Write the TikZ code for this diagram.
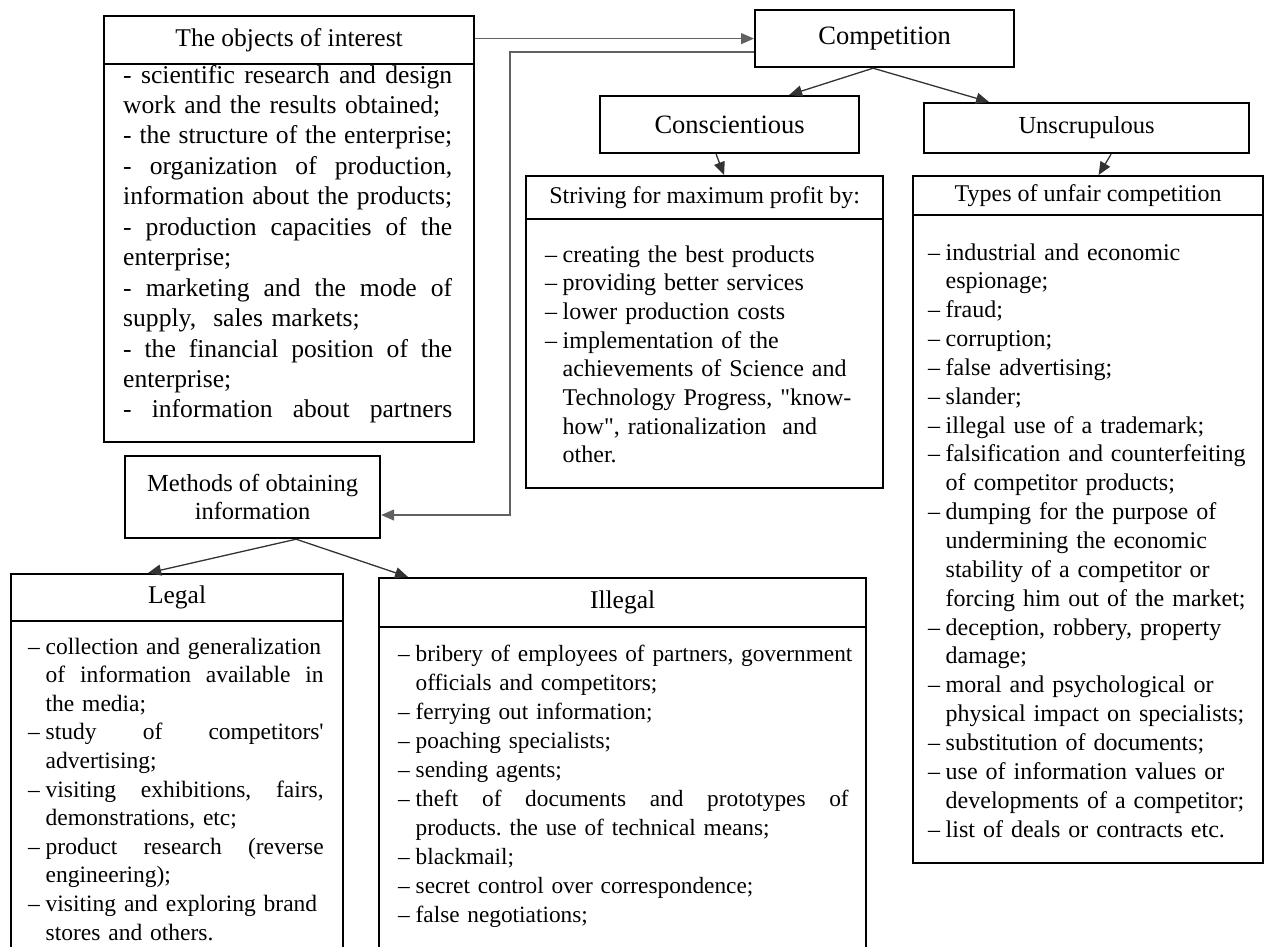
\documentclass[tikz,border=0pt]{standalone}
\usepackage{fontspec}
\setmainfont{Liberation Serif}
\usetikzlibrary{arrows.meta,calc}
\newcommand{\itm}{\makebox[17.5pt][l]{–}}
\newcommand{\cind}{\hspace*{17.5pt}}
\newcommand{\jline}[2]{\leavevmode\hbox to #1{\spaceskip=\fontdimen2\font plus 1fil\relax #2}}
\frenchspacing
\begin{document}
\begin{tikzpicture}[x=1pt,y=-1pt,
  box/.style={draw=black,line width=2.2pt,inner sep=0pt,anchor=north west,align=center,fill=white},
  hfont/.style={font=\fontsize{24.5}{28}\selectfont},
  body/.style={inner sep=0pt,anchor=base west,align=left},
  conn/.style={draw=black!80,line width=1.3pt,-{Triangle[length=13pt,width=11pt]}},
  conng/.style={conn,draw=black!62},
  ]
\clip (0,0) rectangle (1264,946);
\coordinate (b1) at (510,52);
\coordinate (b2) at (510,515);
% boxes
\node[box,font=\fontsize{25.5}{28}\selectfont,minimum width=370pt,minimum height=48pt] (objH) at (103,15) {The objects of interest};
\node[box,minimum width=370pt,minimum height=378pt] (objB) at (103,63) {};
\node[box,font=\fontsize{26.5}{28}\selectfont,minimum width=259pt,minimum height=57pt] (comp) at (754,9) {Competition};
\node[box,font=\fontsize{26.5}{28}\selectfont,minimum width=259pt,minimum height=57pt] (consc) at (599,95) {Conscientious};
\node[box,hfont,minimum width=325pt,minimum height=50pt] (unscr) at (923,102) {Unscrupulous};
\node[box,font=\fontsize{24}{28}\selectfont,minimum width=357pt,minimum height=43pt] (strH) at (525,175) {Striving for maximum profit by:};
\node[box,minimum width=357pt,minimum height=269pt] (strB) at (525,218) {};
\node[box,font=\fontsize{24}{28}\selectfont,minimum width=350pt,minimum height=39pt] (typH) at (912,175) {Types of unfair competition};
\node[box,minimum width=350pt,minimum height=648pt] (typB) at (912,214) {};
\node[box,hfont,minimum width=255pt,minimum height=82pt] (methods) at (124,455) {Methods of obtaining\\information};
\node[box,font=\fontsize{25.5}{28}\selectfont,minimum width=332pt,minimum height=47pt] (legH) at (10,573) {Legal};
\node[box,minimum width=332pt,minimum height=340pt] (legB) at (10,620) {};
\node[box,font=\fontsize{25.5}{28}\selectfont,minimum width=487pt,minimum height=49pt] (illH) at (378,577) {Illegal};
\node[box,minimum width=487pt,minimum height=340pt] (illB) at (378,626) {};
% body texts
\node[body,text width=332pt,font=\fontsize{25.6}{30.45}\selectfont] (objT) at (123,83) {%
\jline{329pt}{- scientific research and design}\\
work and the results obtained;\\
\jline{329pt}{- the structure of the enterprise;}\\
\jline{329pt}{- organization of production,}\\
\jline{329pt}{information about the products;}\\
\jline{329pt}{- production capacities of the}\\
enterprise;\\
\jline{329pt}{- marketing and the mode of}\\
supply,~ sales markets;\\
\jline{329pt}{- the financial position of the}\\
enterprise;\\
\jline{329pt}{- information about partners}};
\node[body,text width=330pt,font=\fontsize{24}{28.7}\selectfont] (strT) at (545,262) {%
\itm creating the best products\\
\itm providing better services\\
\itm lower production costs\\
\itm implementation of the\\
\cind achievements of Science and\\
\cind Technology Progress, \textquotedbl know-\\
\cind how\textquotedbl, rationalization~ and\\
\cind other.};
\node[body,text width=330pt,font=\fontsize{24}{28.85}\selectfont] (typT) at (928,260) {%
\itm industrial and economic\\
\cind espionage;\\
\itm fraud;\\
\itm corruption;\\
\itm false advertising;\\
\itm slander;\\
\itm illegal use of a trademark;\\
\itm falsification and counterfeiting\\
\cind of competitor products;\\
\itm dumping for the purpose of\\
\cind undermining the economic\\
\cind stability of a competitor or\\
\cind forcing him out of the market;\\
\itm deception, robbery, property\\
\cind damage;\\
\itm moral and psychological or\\
\cind physical impact on specialists;\\
\itm substitution of documents;\\
\itm use of information values or\\
\cind developments of a competitor;\\
\itm list of deals or contracts etc.};
\node[body,text width=305pt,font=\fontsize{23.5}{28.6}\selectfont] (legT) at (28,654) {%
\itm collection and generalization\\
\cind\jline{278pt}{of information available in}\\
\cind the media;\\
\itm\jline{278pt}{study of competitors\textquotesingle}\\
\cind advertising;\\
\itm\jline{278pt}{visiting exhibitions, fairs,}\\
\cind demonstrations, etc;\\
\itm\jline{278pt}{product research (reverse}\\
\cind engineering);\\
\itm visiting and exploring brand\\
\cind stores and others.};
\node[body,text width=460pt,font=\fontsize{23.3}{29}\selectfont] (illT) at (398,661) {%
\itm bribery of employees of partners, government\\
\cind officials and competitors;\\
\itm ferrying out information;\\
\itm poaching specialists;\\
\itm sending agents;\\
\itm\jline{433pt}{theft of documents and prototypes of}\\
\cind products. the use of technical means;\\
\itm blackmail;\\
\itm secret control over correspondence;\\
\itm false negotiations;};
% connectors
\draw[conng] (objH.east |- comp.west) -- (comp.west);
\draw[conng] (comp.west |- b1) -- (b1) -- (b2) -- (methods.east |- b2);
\draw[conn] ([xshift=-11.5pt]comp.south) -- ([xshift=59.5pt]consc.north);
\draw[conn] ([xshift=-11.5pt]comp.south) -- ([xshift=-97.5pt]unscr.north);
\draw[conn] ([xshift=-13.5pt]consc.south) -- ([xshift=19.5pt]strH.north);
\draw[conn] ([xshift=24.5pt]unscr.south) -- ([xshift=10.5pt]typH.north);
\draw[conn] ([xshift=43.5pt]methods.south) -- ([xshift=-29pt]legH.north);
\draw[conn] ([xshift=43.5pt]methods.south) -- ([xshift=-214.5pt]illH.north);
\end{tikzpicture}
\end{document}
